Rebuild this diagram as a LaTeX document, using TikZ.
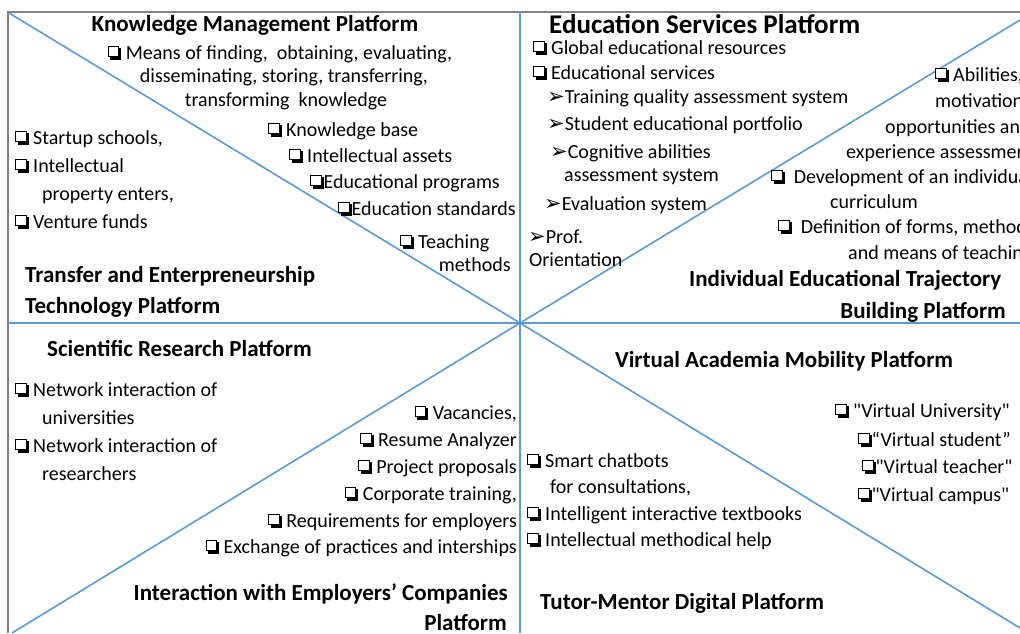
\documentclass[tikz,border=0pt]{standalone}
\usepackage{fontspec}
\setmainfont{Carlito}[Ligatures=TeXOff]
\newfontfamily\dingfont{DejaVu Sans}
\definecolor{lineblue}{HTML}{5B9BD5}
\definecolor{framegray}{HTML}{808080}
\newcommand{\cbox}{\tikz[x=1pt,y=1pt,baseline=0pt]{\fill[black] (2.5,-0.5) rectangle (13.5,11); \filldraw[fill=white, draw=black, line width=1pt] (0.5,2.3) rectangle (11,13);}}
\newcommand{\harrow}{{\dingfont\fontsize{21}{21}\selectfont ➢}}
\begin{document}
\begin{tikzpicture}[x=1pt,y=-1pt]
        \tikzstyle{item} = [inner sep=0pt, font=\fontsize{20}{24}\selectfont]
        \tikzstyle{title} = [inner sep=0pt, font=\bfseries\fontsize{23}{28}\selectfont]
        \tikzstyle{rule} = [lineblue, line width=1.6pt]
        \tikzstyle{frame} = [framegray, line width=1.4pt]

                \clip (0,0) rectangle (1020,633);
                \fill[white] (0,0) rectangle (1020,633);

                % frame and the star of lines
                \coordinate (c) at (520,323);
                \coordinate (tl) at (8,12);
                \coordinate (tr) at (1020,12);
                \coordinate (bl) at (8,633);
                \coordinate (ml) at (8,323);
                \coordinate (mr) at (1020,323);
                \coordinate (mt) at (520,12);
                \coordinate (mb) at (520,633);
                \coordinate (dtl) at (9,13);
                \coordinate (dtr) at (1020,20);
                \coordinate (dbl) at (12,633);
                \coordinate (dbr) at (1020,628);

                \draw[frame] (bl) -- (tl) -- (tr);
                \draw[rule] (ml) -- (mr);
                \draw[rule] (mt) -- (mb);
                \draw[rule] (dtl) -- (c) -- (dbr);
                \draw[rule] (dbl) -- (c) -- (dtr);

                % Knowledge Management
                \node (km) [title, anchor=base] at (255,31) {Knowledge Management Platform};
                \node (km1) [item, anchor=base] at (280,59) {\cbox\ Means of finding,\ \ obtaining, evaluating,};
                \node (km2) [item, anchor=base] at (284,82) {disseminating, storing, transferring,};
                \node (km3) [item, anchor=base] at (286,106) {transforming\ \ knowledge};
                \node (km4) [item, anchor=base west] at (268,136) {\cbox\ Knowledge base};
                \node (km5) [item, anchor=base west] at (289,162) {\cbox\ Intellectual assets};
                \node (km6) [item, anchor=base west] at (310,188) {\cbox Educational programs};
                \node (km7) [item, anchor=base west] at (338,215) {\cbox Education standards};
                \node (km8) [item, anchor=base west] at (400,248) {\cbox\ Teaching};
                \node (km9) [item, anchor=base east] at (511,271) {methods};

                % Transfer and Enterpreneurship
                \node (te1) [item, anchor=base west] at (15,144) {\cbox\ Startup schools,};
                \node (te2) [item, anchor=base west] at (15,172) {\cbox\ Intellectual};
                \node (te3) [item, anchor=base west] at (42,200) {property enters,};
                \node (te4) [item, anchor=base west] at (15,228) {\cbox\ Venture funds};
                \node (te) [title, anchor=base west] at (25,282) {Transfer and Enterpreneurship};
                \node (teb) [title, anchor=base west] at (25,313) {Technology Platform};

                % Education Services
                \node (es) [title, anchor=base west, font=\bfseries\fontsize{27}{31}\selectfont] at (549,33) {Education Services Platform};
                \node (es1) [item, anchor=base west] at (533,54) {\cbox\ Global educational\ resources};
                \node (es2) [item, anchor=base west] at (533,79) {\cbox\ Educational services};
                \node (es3) [item, anchor=base west] at (547,103) {\harrow Training quality assessment system};
                \node (es4) [item, anchor=base west] at (547,130) {\harrow Student educational portfolio};
                \node (es5) [item, anchor=base west] at (550,158) {\harrow Cognitive abilities};
                \node (es6) [item, anchor=base west] at (564,181) {assessment system};
                \node (es7) [item, anchor=base west] at (544,210) {\harrow Evaluation system};
                \node (es8) [item, anchor=base west] at (528,243) {\harrow Prof.};
                \node (es9) [item, anchor=base west] at (529,266) {Orientation};

                % Individual Educational Trajectory
                \node (it1) [item, anchor=base west] at (935,81) {\cbox\ Abilities,};
                \node (it2) [item, anchor=base west] at (935,107) {motivation,};
                \node (it3) [item, anchor=base west] at (885,133) {opportunities and};
                \node (it4) [item, anchor=base west] at (846,158) {experience assessment};
                \node (it5) [item, anchor=base west] at (771,183) {\cbox\ \ Development of an individual};
                \node (it6) [item, anchor=base west] at (830,208) {curriculum};
                \node (it7) [item, anchor=base west] at (778,233) {\cbox\ \ Definition of forms, methods};
                \node (it8) [item, anchor=base west] at (848,259) {and means of teaching};
                \node (it) [title, anchor=base west] at (689,286) {Individual Educational Trajectory};
                \node (itb) [title, anchor=base east] at (1006,318) {Building Platform};

                % Scientific Research
                \node (sr) [title, anchor=base west] at (47,356) {Scientific Research Platform};
                \node (sr1) [item, anchor=base west] at (15,396) {\cbox\ Network interaction of};
                \node (sr2) [item, anchor=base west] at (42,424) {universities};
                \node (sr3) [item, anchor=base west] at (15,452) {\cbox\ Network interaction of};
                \node (sr4) [item, anchor=base west] at (42,480) {researchers};

                % Interaction with Employers
                \node (ie1) [item, anchor=base east] at (517,419) {\cbox\ Vacancies,};
                \node (ie2) [item, anchor=base east] at (517,446) {\cbox\ Resume Analyzer};
                \node (ie3) [item, anchor=base east] at (517,473) {\cbox\ Project proposals};
                \node (ie4) [item, anchor=base east] at (517,500) {\cbox\ Corporate training,};
                \node (ie5) [item, anchor=base east] at (517,527) {\cbox\ Requirements for employers};
                \node (ie6) [item, anchor=base east] at (517,553) {\cbox\ Exchange of practices and interships};
                \node (ie) [title, anchor=base east] at (508,600) {Interaction with Employers’ Companies};
                \node (ieb) [title, anchor=base east] at (507,630) {Platform};

                % Virtual Academia Mobility
                \node (va) [title, anchor=base west] at (615,367) {Virtual Academia Mobility Platform};
                \node (va1) [item, anchor=base west] at (835,417) {\cbox\ "Virtual University"};
                \node (va2) [item, anchor=base west] at (858,446) {\cbox “Virtual student”};
                \node (va3) [item, anchor=base west] at (862,473) {\cbox "Virtual teacher"};
                \node (va4) [item, anchor=base west] at (858,501) {\cbox "Virtual campus"};

                % Tutor-Mentor Digital
                \node (tm1) [item, anchor=base west] at (527,467) {\cbox\ Smart chatbots};
                \node (tm2) [item, anchor=base west] at (550,493) {for consultations,};
                \node (tm3) [item, anchor=base west] at (527,520) {\cbox\ Intelligent interactive textbooks};
                \node (tm4) [item, anchor=base west] at (527,546) {\cbox\ Intellectual methodical help};
                \node (tm) [title, anchor=base west] at (540,609) {Tutor-Mentor Digital Platform};

    \end{tikzpicture}
\end{document}
